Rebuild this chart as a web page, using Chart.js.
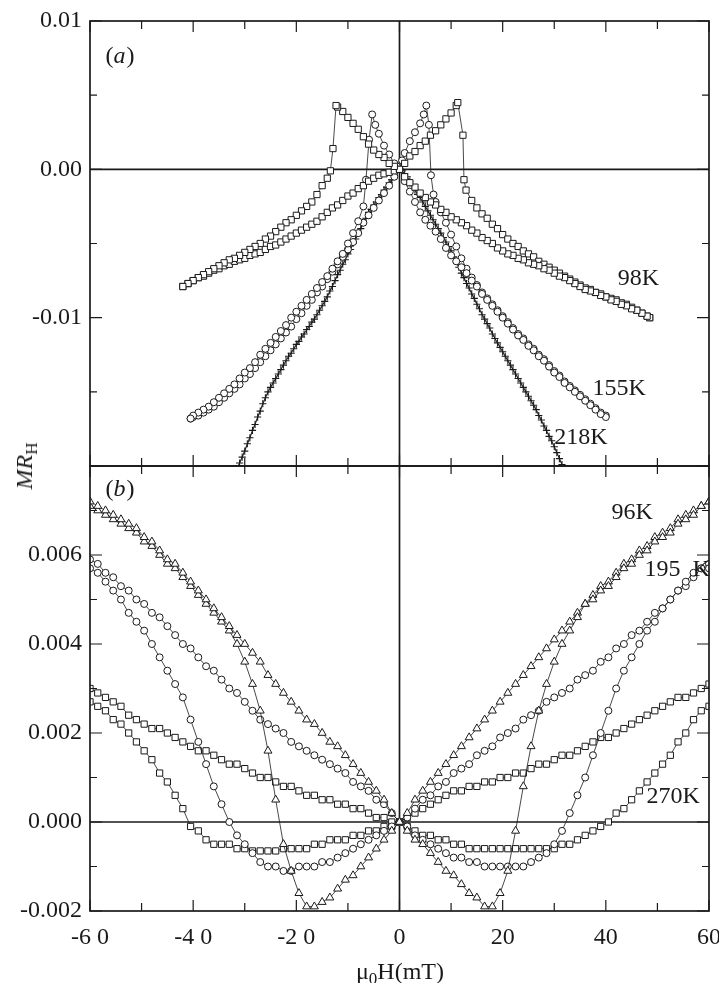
<!DOCTYPE html>
<html lang="en">
<head>
<meta charset="UTF-8">
<title>MR_H vs field</title>
<script src="https://cdn.jsdelivr.net/npm/chart.js@4.4.0/dist/chart.umd.min.js"></script>
<style>
    body { margin: 0; background: #fff; }
    #wrap { position: relative; width: 719px; height: 983px; font-family: "Liberation Serif", "DejaVu Serif", serif; color: #1a1a1a; }
    #wrap canvas { position: absolute; left: 0; top: 0; }
    .ytitle { position: absolute; left: 24px; top: 466px; transform: translate(-50%, -50%) rotate(-90deg); font-size: 24px; white-space: nowrap; line-height: 28px; }
    .xtitle { position: absolute; left: 300px; width: 200px; top: 957px; text-align: center; font-size: 24px; line-height: 28px; }
    sub { font-size: 17px; vertical-align: -5px; line-height: 0; }
</style>
</head>
<body>
<div id="wrap">
    <canvas id="topChart" width="719" height="983"></canvas>
    <canvas id="botChart" width="719" height="983"></canvas>
    <div class="ytitle"><i>MR</i><sub>H</sub></div>
    <div class="xtitle">&mu;<sub>0</sub>H(mT)</div>
</div>

<script>
    // ---- panel (a): [field mT, MR_H] per sweep branch ----
    const a98Down = [[48.5,-0.0100],[48,-0.0099],[47,-0.0097],[46,-0.0095],[45,-0.0094],[44,-0.0092],[43,-0.0091],[42,-0.0089],[41,-0.0088],[40,-0.0086],
        [39,-0.0085],[38,-0.0083],[37,-0.0082],[36,-0.0081],[35,-0.0079],[34,-0.0077],[33,-0.0075],[32,-0.0073],[31,-0.0072],[30,-0.0070],
        [29,-0.0068],[28,-0.0067],[27,-0.0065],[26,-0.0064],[25,-0.0063],[24,-0.0061],[23,-0.0060],[22,-0.0058],[21,-0.0057],[20,-0.0055],
        [19,-0.0053],[18,-0.0050],[17,-0.0048],[16,-0.0046],[15,-0.0043],[14,-0.0041],[13,-0.0038],[12,-0.0036],[11,-0.0034],[10,-0.0032],
        [9,-0.0029],[8,-0.0027],[7,-0.0024],[6,-0.0022],[5,-0.0019],[4,-0.0016],[3,-0.0012],[2,-0.0009],[1,-0.0005],[0,0],
        [-1,0.0002],[-2,0.0004],[-3,0.0008],[-4,0.0010],[-5,0.0013],[-6,0.0017],[-7,0.0022],[-8,0.0027],[-9,0.0031],[-10,0.0035],
        [-11,0.0039],[-12,0.0042],[-12.3,0.0043],[-12.9,0.0014],[-13.4,-0.0001],
        [-14,-0.0006],[-15,-0.0011],[-16,-0.0017],[-17,-0.0022],[-18,-0.0025],[-19,-0.0028],[-20,-0.0031],[-21,-0.0034],[-22,-0.0036],[-23,-0.0039],
        [-24,-0.0042],[-25,-0.0045],[-26,-0.0047],[-27,-0.0050],[-28,-0.0052],[-29,-0.0054],[-30,-0.0056],[-31,-0.0058],[-32,-0.0060],[-33,-0.0061],
        [-34,-0.0063],[-35,-0.0065],[-36,-0.0067],[-37,-0.0069],[-38,-0.0071],[-39,-0.0073],[-40,-0.0075],[-41,-0.0077],[-42,-0.0079]];

    const a98Up = [[-42,-0.0079],[-41,-0.0077],[-40,-0.0075],[-39,-0.0073],[-38,-0.0072],[-37,-0.0070],[-36,-0.0068],[-35,-0.0067],[-34,-0.0065],[-33,-0.0064],
        [-32,-0.0062],[-31,-0.0061],[-30,-0.0060],[-29,-0.0058],[-28,-0.0057],[-27,-0.0056],[-26,-0.0054],[-25,-0.0052],[-24,-0.0051],[-23,-0.0049],
        [-22,-0.0047],[-21,-0.0045],[-20,-0.0043],[-19,-0.0041],[-18,-0.0039],[-17,-0.0037],[-16,-0.0035],[-15,-0.0032],[-14,-0.0029],[-13,-0.0026],
        [-12,-0.0024],[-11,-0.0021],[-10,-0.0018],[-9,-0.0016],[-8,-0.0013],[-7,-0.0011],[-6,-0.0008],[-5,-0.0006],[-4,-0.0004],[-3,-0.0003],
        [-2,-0.0002],[-1,-0.0001],[0,0],
        [1,0.0004],[2,0.0009],[3,0.0012],[4,0.0016],[5,0.0019],[6,0.0023],[7,0.0026],[8,0.0030],[9,0.0034],[10,0.0038],
        [11,0.0043],[11.3,0.0045],[12.3,0.0023],[12.5,-0.0007],[12.9,-0.0014],
        [14,-0.0021],[15,-0.0026],[16,-0.0030],[17,-0.0033],[18,-0.0037],[19,-0.0040],[20,-0.0044],[21,-0.0047],[22,-0.0050],[23,-0.0052],
        [24,-0.0055],[25,-0.0057],[26,-0.0059],[27,-0.0062],[28,-0.0064],[29,-0.0066],[30,-0.0068],[31,-0.0070],[32,-0.0072],[33,-0.0074],
        [34,-0.0076],[35,-0.0078],[36,-0.0080],[37,-0.0081],[38,-0.0083],[39,-0.0084],[40,-0.0086],[41,-0.0087],[42,-0.0088],[43,-0.0090],
        [44,-0.0091],[45,-0.0093],[46,-0.0095],[47,-0.0097],[48,-0.0099],[48.5,-0.0100]];

    const a155Down = [[40,-0.0167],[39,-0.0165],[38,-0.0162],[37,-0.0159],[36,-0.0156],[35,-0.0153],[34,-0.0150],[33,-0.0147],[32,-0.0144],[31,-0.0140],
        [30,-0.0137],[29,-0.0133],[28,-0.0129],[27,-0.0126],[26,-0.0122],[25,-0.0119],[24,-0.0115],[23,-0.0112],[22,-0.0108],[21,-0.0104],
        [20,-0.0100],[19,-0.0096],[18,-0.0092],[17,-0.0088],[16,-0.0084],[15,-0.0079],[14,-0.0075],[13,-0.0070],[12,-0.0066],[11,-0.0062],
        [10,-0.0058],[9,-0.0053],[8,-0.0047],[7,-0.0042],[6,-0.0038],[5,-0.0034],[4,-0.0029],[3,-0.0022],[2,-0.0015],[1,-0.0008],[0,0],
        [-0.5,0.0002],[-1,0.0004],[-2,0.0010],[-3,0.0016],[-4,0.0024],[-4.7,0.0030],[-5.3,0.0037],
        [-5.9,0.0020],[-6.5,-0.0007],[-7,-0.0025],
        [-8,-0.0035],[-9,-0.0043],[-10,-0.0050],[-11,-0.0057],[-12,-0.0062],[-13,-0.0067],[-14,-0.0072],[-15,-0.0076],[-16,-0.0080],[-17,-0.0084],
        [-18,-0.0088],[-19,-0.0092],[-20,-0.0096],[-21,-0.0100],[-22,-0.0105],[-23,-0.0109],[-24,-0.0113],[-25,-0.0117],[-26,-0.0121],[-27,-0.0125],
        [-28,-0.0130],[-29,-0.0134],[-30,-0.0137],[-31,-0.0141],[-32,-0.0145],[-33,-0.0148],[-34,-0.0151],[-35,-0.0154],[-36,-0.0157],[-37,-0.0160],
        [-38,-0.0162],[-39,-0.0164],[-40,-0.0166],[-40.5,-0.0168]];

    const a155Up = [[-40.5,-0.0168],[-40,-0.0167],[-39,-0.0166],[-38,-0.0164],[-37,-0.0162],[-36,-0.0160],[-35,-0.0157],[-34,-0.0154],[-33,-0.0151],[-32,-0.0148],
        [-31,-0.0145],[-30,-0.0141],[-29,-0.0138],[-28,-0.0134],[-27,-0.0130],[-26,-0.0126],[-25,-0.0122],[-24,-0.0118],[-23,-0.0114],[-22,-0.0110],
        [-21,-0.0106],[-20,-0.0101],[-19,-0.0097],[-18,-0.0092],[-17,-0.0088],[-16,-0.0083],[-15,-0.0079],[-14,-0.0074],[-13,-0.0069],[-12,-0.0064],
        [-11,-0.0059],[-10,-0.0054],[-9,-0.0049],[-8,-0.0043],[-7,-0.0036],[-6,-0.0031],[-5,-0.0026],[-4,-0.0021],[-3,-0.0016],[-2,-0.0011],
        [-1,-0.0005],[0,0],
        [0.5,0.0006],[1,0.0011],[2,0.0019],[3,0.0025],[4,0.0031],[4.7,0.0037],[5.2,0.0043],
        [5.7,0.0030],[6.1,-0.0004],[6.6,-0.0017],
        [7,-0.0022],[8,-0.0029],[9,-0.0036],[10,-0.0044],[11,-0.0052],[12,-0.0060],[13,-0.0067],[14,-0.0073],[15,-0.0078],[16,-0.0083],
        [17,-0.0087],[18,-0.0091],[19,-0.0095],[20,-0.0099],[21,-0.0103],[22,-0.0107],[23,-0.0111],[24,-0.0114],[25,-0.0118],[26,-0.0121],
        [27,-0.0125],[28,-0.0128],[29,-0.0132],[30,-0.0136],[31,-0.0139],[32,-0.0143],[33,-0.0146],[34,-0.0149],[35,-0.0152],[36,-0.0155],
        [37,-0.0158],[38,-0.0161],[39,-0.0164],[40,-0.0166]];

    const a218A = [[-32,-0.0206],[-31,-0.0198],[-30,-0.0190],[-29,-0.0181],[-28,-0.0172],[-27,-0.0163],[-26,-0.0154],[-25,-0.0147],[-24,-0.0141],[-23,-0.0135],
        [-22,-0.0129],[-21,-0.0124],[-20,-0.0118],[-19,-0.0113],[-18,-0.0108],[-17,-0.0103],[-16,-0.0098],[-15,-0.0092],[-14,-0.0086],[-13,-0.0079],
        [-12,-0.0071],[-11,-0.0064],[-10,-0.0057],[-9,-0.0050],[-8,-0.0043],[-7,-0.0036],[-6,-0.0029],[-5,-0.0024],[-4,-0.0019],[-3,-0.0014],
        [-2,-0.0009],[-1,-0.0004],[0,0],[1,-0.0003],[2,-0.0008],[3,-0.0014],[4,-0.0019],[5,-0.0025],[6,-0.0031],[7,-0.0037],
        [8,-0.0043],[9,-0.0049],[10,-0.0055],[11,-0.0062],[12,-0.0070],[13,-0.0077],[14,-0.0084],[15,-0.0091],[16,-0.0098],[17,-0.0104],
        [18,-0.0111],[19,-0.0117],[20,-0.0123],[21,-0.0129],[22,-0.0135],[23,-0.0141],[24,-0.0147],[25,-0.0153],[26,-0.0159],[27,-0.0166],
        [28,-0.0173],[29,-0.0180],[30,-0.0187],[31,-0.0195],[32,-0.0203]];

    const a218B = [[-31.5,-0.0202],[-30.5,-0.0194],[-29.5,-0.0185],[-28.5,-0.0176],[-27.5,-0.0167],[-26.5,-0.0158],[-25.5,-0.0150],[-24.5,-0.0144],[-23.5,-0.0138],[-22.5,-0.0132],
        [-21.5,-0.0126],[-20.5,-0.0121],[-19.5,-0.0116],[-18.5,-0.0111],[-17.5,-0.0106],[-16.5,-0.0101],[-15.5,-0.0095],[-14.5,-0.0089],[-13.5,-0.0082],[-12.5,-0.0075],
        [-11.5,-0.0068],[-10.5,-0.0061],[-9.5,-0.0054],[-8.5,-0.0047],[-7.5,-0.0040],[-6.5,-0.0033],[-5.5,-0.0027],[-4.5,-0.0022],[-3.5,-0.0017],[-2.5,-0.0012],
        [-1.5,-0.0007],[-0.5,-0.0002],[0.5,-0.0001],[1.5,-0.0005],[2.5,-0.0011],[3.5,-0.0017],[4.5,-0.0022],[5.5,-0.0028],[6.5,-0.0034],[7.5,-0.0040],
        [8.5,-0.0046],[9.5,-0.0052],[10.5,-0.0059],[11.5,-0.0066],[12.5,-0.0073],[13.5,-0.0080],[14.5,-0.0087],[15.5,-0.0094],[16.5,-0.0101],[17.5,-0.0107],
        [18.5,-0.0114],[19.5,-0.0120],[20.5,-0.0126],[21.5,-0.0132],[22.5,-0.0138],[23.5,-0.0144],[24.5,-0.0150],[25.5,-0.0156],[26.5,-0.0162],[27.5,-0.0169],
        [28.5,-0.0176],[29.5,-0.0183],[30.5,-0.0191],[31.5,-0.0199]];

    // ---- panel (b): common field grid (mT) and MR_H per branch ----
    const fieldB = [-60,-58.5,-57,-55.5,-54,-52.5,-51,-49.5,-48,-46.5,-45,-43.5,-42,-40.5,-39,-37.5,-36,-34.5,-33,-31.5,
        -30,-28.5,-27,-25.5,-24,-22.5,-21,-19.5,-18,-16.5,-15,-13.5,-12,-10.5,-9,-7.5,-6,-4.5,-3,-1.5,0,
        1.5,3,4.5,6,7.5,9,10.5,12,13.5,15,16.5,18,19.5,21,22.5,24,25.5,27,28.5,30,
        31.5,33,34.5,36,37.5,39,40.5,42,43.5,45,46.5,48,49.5,51,52.5,54,55.5,57,58.5,60];

    const mr96Up = [0.0072,0.0071,0.0070,0.0069,0.0068,0.0067,0.0066,0.0064,0.0063,0.0061,0.0059,0.0058,0.0056,0.0054,0.0052,0.0050,0.0048,0.0046,0.0044,0.0042,
        0.0040,0.0038,0.0036,0.0033,0.0031,0.0029,0.0027,0.0025,0.0023,0.0022,0.0020,0.0018,0.0017,0.0015,0.0013,0.0011,0.0009,0.0007,0.0005,0.0002,0,
        -0.0002,-0.0004,-0.0005,-0.0007,-0.0009,-0.0011,-0.0012,-0.0014,-0.0016,-0.0017,-0.0019,-0.0019,-0.0016,-0.0011,-0.0002,0.0008,0.0017,0.0025,0.0031,0.0036,
        0.0040,0.0043,0.0046,0.0049,0.0050,0.0052,0.0053,0.0055,0.0057,0.0058,0.0060,0.0061,0.0063,0.0064,0.0065,0.0067,0.0068,0.0069,0.0071,0.0072];

    const mr96Down = [0.0071,0.0070,0.0069,0.0068,0.0067,0.0066,0.0065,0.0063,0.0062,0.0060,0.0058,0.0057,0.0055,0.0053,0.0051,0.0049,0.0047,0.0045,0.0043,0.0040,
        0.0036,0.0031,0.0025,0.0016,0.0005,-0.0005,-0.0011,-0.0016,-0.0019,-0.0019,-0.0018,-0.0017,-0.0015,-0.0013,-0.0012,-0.0010,-0.0008,-0.0006,-0.0004,-0.0002,0,
        0.0002,0.0005,0.0007,0.0009,0.0011,0.0013,0.0015,0.0017,0.0019,0.0021,0.0023,0.0025,0.0027,0.0029,0.0031,0.0033,0.0035,0.0037,0.0039,0.0041,
        0.0043,0.0045,0.0047,0.0049,0.0051,0.0053,0.0054,0.0056,0.0058,0.0059,0.0061,0.0062,0.0064,0.0065,0.0066,0.0068,0.0069,0.0070,0.0071,0.0072];

    const mr195Up = [0.0059,0.0058,0.0056,0.0055,0.0053,0.0052,0.0050,0.0049,0.0047,0.0046,0.0044,0.0042,0.0040,0.0039,0.0037,0.0035,0.0034,0.0032,0.0030,0.0029,
        0.0027,0.0025,0.0023,0.0022,0.0021,0.0020,0.0018,0.0017,0.0016,0.0015,0.0014,0.0013,0.0012,0.0011,0.0009,0.0008,0.0007,0.0005,0.0004,0.0002,0,
        -0.0001,-0.0003,-0.0004,-0.0005,-0.0006,-0.0007,-0.0008,-0.0008,-0.0009,-0.0009,-0.0010,-0.0010,-0.0010,-0.0010,-0.0010,-0.0010,-0.0009,-0.0008,-0.0007,-0.0005,
        -0.0002,0.0002,0.0006,0.0010,0.0015,0.0020,0.0025,0.0030,0.0034,0.0037,0.0040,0.0043,0.0045,0.0048,0.0050,0.0052,0.0054,0.0056,0.0057,0.0057];

    const mr195Down = [0.0057,0.0056,0.0054,0.0052,0.0050,0.0047,0.0045,0.0043,0.0040,0.0037,0.0034,0.0031,0.0028,0.0023,0.0018,0.0013,0.0008,0.0004,0.0000,-0.0003,
        -0.0005,-0.0007,-0.0009,-0.0010,-0.0010,-0.0011,-0.0011,-0.0010,-0.0010,-0.0010,-0.0009,-0.0009,-0.0008,-0.0007,-0.0006,-0.0005,-0.0004,-0.0003,-0.0002,-0.0001,0,
        0.0001,0.0003,0.0005,0.0006,0.0008,0.0009,0.0011,0.0012,0.0013,0.0015,0.0016,0.0017,0.0019,0.0020,0.0021,0.0023,0.0024,0.0025,0.0027,0.0028,
        0.0029,0.0030,0.0032,0.0033,0.0034,0.0036,0.0037,0.0039,0.0040,0.0042,0.0043,0.0045,0.0047,0.0048,0.0050,0.0052,0.0053,0.0055,0.0057,0.0058];

    const mr270Up = [0.0030,0.0029,0.0028,0.0027,0.0026,0.0024,0.0023,0.0022,0.0021,0.0021,0.0020,0.0019,0.0018,0.0017,0.0016,0.0016,0.0015,0.0014,0.0013,0.0013,
        0.0012,0.0011,0.0010,0.0010,0.0009,0.0008,0.0008,0.0007,0.0006,0.0006,0.0005,0.0005,0.0004,0.0004,0.0003,0.0003,0.0002,0.0001,0.0001,0.0000,0,
        -0.0001,-0.0002,-0.0003,-0.0003,-0.0004,-0.0004,-0.0005,-0.0005,-0.0006,-0.0006,-0.0006,-0.0006,-0.0006,-0.0006,-0.0006,-0.0006,-0.0006,-0.0006,-0.0006,-0.0006,
        -0.0005,-0.0005,-0.0004,-0.0003,-0.0002,-0.0001,0.0000,0.0002,0.0003,0.0005,0.0007,0.0009,0.0011,0.0013,0.0015,0.0018,0.0020,0.0023,0.0025,0.0026];

    const mr270Down = [0.0027,0.0026,0.0025,0.0023,0.0022,0.0020,0.0018,0.0016,0.0014,0.0011,0.0009,0.0006,0.0003,-0.0001,-0.0002,-0.0004,-0.0005,-0.0005,-0.0005,-0.0006,
        -0.0006,-0.00065,-0.00065,-0.00065,-0.00065,-0.0006,-0.0006,-0.0006,-0.0006,-0.0005,-0.0005,-0.0004,-0.0004,-0.0004,-0.0003,-0.0003,-0.0002,-0.0002,-0.0001,-0.0001,0,
        0.0001,0.0002,0.0003,0.0004,0.0005,0.0006,0.0007,0.0007,0.0008,0.0008,0.0009,0.0009,0.0010,0.0010,0.0011,0.0011,0.0012,0.0013,0.0013,0.0014,
        0.0015,0.0015,0.0016,0.0017,0.0018,0.0019,0.0019,0.0020,0.0021,0.0022,0.0023,0.0024,0.0025,0.0026,0.0027,0.0028,0.0028,0.0029,0.0030,0.0031];

    // ---- styles ----
    const ink = '#1a1a1a';
    const serif = '"Liberation Serif", "DejaVu Serif", serif';
    const base = { showLine: true, tension: 0, borderColor: ink, borderWidth: 0.8, backgroundColor: '#fff',
        pointBorderColor: ink, pointBackgroundColor: '#fff', pointBorderWidth: 1, pointHoverRadius: 0 };
    const square = { ...base, pointStyle: 'rect', pointRadius: 4.4 };
    const circle = { ...base, pointStyle: 'circle', pointRadius: 3.5 };
    const triangle = { ...base, pointStyle: 'triangle', pointRadius: 4.6 };
    const cross = { ...base, pointStyle: 'cross', pointRadius: 3.6, pointBorderWidth: 1.1 };

    const fromPairs = (pairs, style) => ({ ...style, data: pairs.map(p => ({ x: p[0], y: p[1] })) });
    const fromGrid = (values, style) => ({ ...style, data: fieldB.map((f, i) => ({ x: f, y: values[i] })) });

    // frame, zero lines, inward ticks and text notes
    const framePlugin = {
        id: 'frame',
        beforeDatasetsDraw(chart) {
            const { ctx, chartArea: a, scales: { x, y } } = chart;
            ctx.save();
            ctx.strokeStyle = ink;
            ctx.lineWidth = 1.7;
            ctx.beginPath();
            const x0 = x.getPixelForValue(0), y0 = y.getPixelForValue(0);
            ctx.moveTo(x0, a.top); ctx.lineTo(x0, a.bottom);
            ctx.moveTo(a.left, y0); ctx.lineTo(a.right, y0);
            ctx.stroke();
            ctx.restore();
        },
        afterDraw(chart, args, opts) {
            const { ctx, chartArea: a, scales: { x, y } } = chart;
            ctx.save();
            ctx.strokeStyle = ink;
            ctx.lineWidth = 1.7;
            ctx.strokeRect(a.left, a.top, a.right - a.left, a.bottom - a.top);
            ctx.lineWidth = 1.2;
            ctx.beginPath();
            for (let k = -6; k <= 6; k++) {
                const px = x.getPixelForValue(k * 10);
                const len = k % 2 === 0 ? 11 : 8;
                ctx.moveTo(px, a.top); ctx.lineTo(px, a.top + len);
                ctx.moveTo(px, a.bottom); ctx.lineTo(px, a.bottom - len);
            }
            for (let k = opts.kMin; k <= opts.kMax; k++) {
                const py = y.getPixelForValue(k * opts.step);
                const len = k % opts.majorEvery === 0 ? 12 : 7;
                ctx.moveTo(a.left, py); ctx.lineTo(a.left + len, py);
                ctx.moveTo(a.right, py); ctx.lineTo(a.right - len, py);
            }
            ctx.stroke();

            ctx.fillStyle = ink;
            ctx.textBaseline = 'middle';
            ctx.textAlign = 'left';
            ctx.font = '24px ' + serif;
            opts.notes.forEach(n => {
                ctx.fillText(n[0], x.getPixelForValue(n[1]), y.getPixelForValue(n[2]));
            });
            // panel letter "(a)" / "(b)" with italic letter
            let px = x.getPixelForValue(opts.panel[1]);
            const py = y.getPixelForValue(opts.panel[2]);
            ctx.fillText('(', px, py); px += ctx.measureText('(').width;
            ctx.font = 'italic 24px ' + serif;
            ctx.fillText(opts.panel[0], px, py); px += ctx.measureText(opts.panel[0]).width + 1;
            ctx.font = '24px ' + serif;
            ctx.fillText(')', px, py);
            ctx.restore();
        }
    };

    const tickFont = { family: serif, size: 24 };
    const hideGrid = { display: false, drawTicks: false };
    const fitY = s => { s.width = 90; s.paddingTop = 0; s.paddingBottom = 0; };

    new Chart(document.getElementById('topChart'), {
        type: 'scatter',
        data: {
            datasets: [
                fromPairs(a98Down, square), fromPairs(a98Up, square),
                fromPairs(a155Down, circle), fromPairs(a155Up, circle),
                fromPairs(a218A, cross), fromPairs(a218B, cross)
            ]
        },
        options: {
            responsive: false,
            animation: false,
            events: [],
            layout: { padding: { left: 0, right: 10, top: 21, bottom: 517 } },
            scales: {
                x: { type: 'linear', min: -60, max: 60, display: false },
                y: {
                    type: 'linear', min: -0.02, max: 0.01, afterFit: fitY,
                    grid: hideGrid, border: { display: false },
                    ticks: {
                        stepSize: 0.005, padding: 8, color: ink, font: tickFont, autoSkip: false,
                        callback: v => {
                            const m = Math.round(v * 1000);
                            if (m % 10 !== 0 || m === -20) return '';
                            return (m / 1000).toFixed(2);
                        }
                    }
                }
            },
            plugins: {
                legend: { display: false },
                tooltip: { enabled: false },
                frame: {
                    kMin: -4, kMax: 2, step: 0.005, majorEvery: 2,
                    panel: ['a', -57, 0.0076],
                    notes: [['98K', 42.3, -0.0074], ['155K', 37.4, -0.0148], ['218K', 30.0, -0.0181]]
                }
            }
        },
        plugins: [framePlugin]
    });

    new Chart(document.getElementById('botChart'), {
        type: 'scatter',
        data: {
            datasets: [
                fromGrid(mr96Up, triangle), fromGrid(mr96Down, triangle),
                fromGrid(mr195Up, circle), fromGrid(mr195Down, circle),
                fromGrid(mr270Up, square), fromGrid(mr270Down, square)
            ]
        },
        options: {
            responsive: false,
            animation: false,
            events: [],
            layout: { padding: { left: 0, right: 10, top: 466, bottom: 32 } },
            scales: {
                x: {
                    type: 'linear', min: -60, max: 60,
                    afterFit: s => { s.height = 40; s.paddingLeft = 0; s.paddingRight = 0; },
                    grid: hideGrid, border: { display: false },
                    ticks: {
                        stepSize: 10, padding: 12, color: ink, font: tickFont, autoSkip: false, maxRotation: 0,
                        callback: v => {
                            const m = Math.round(v);
                            if (m % 20 !== 0) return '';
                            return m < 0 ? '-' + String(-m).split('').join(' ') : String(m);
                        }
                    }
                },
                y: {
                    type: 'linear', min: -0.002, max: 0.008, afterFit: fitY,
                    grid: hideGrid, border: { display: false },
                    ticks: {
                        stepSize: 0.001, padding: 8, color: ink, font: tickFont, autoSkip: false,
                        callback: v => {
                            const m = Math.round(v * 10000);
                            if (m % 20 !== 0 || m === 80) return '';
                            return (m / 10000).toFixed(3);
                        }
                    }
                }
            },
            plugins: {
                legend: { display: false },
                tooltip: { enabled: false },
                frame: {
                    kMin: -2, kMax: 8, step: 0.001, majorEvery: 2,
                    panel: ['b', -57, 0.00746],
                    notes: [['96K', 41.1, 0.00694], ['195  K', 47.5, 0.00566], ['270K', 47.9, 0.00056]]
                }
            }
        },
        plugins: [framePlugin]
    });
</script>
</body>
</html>
